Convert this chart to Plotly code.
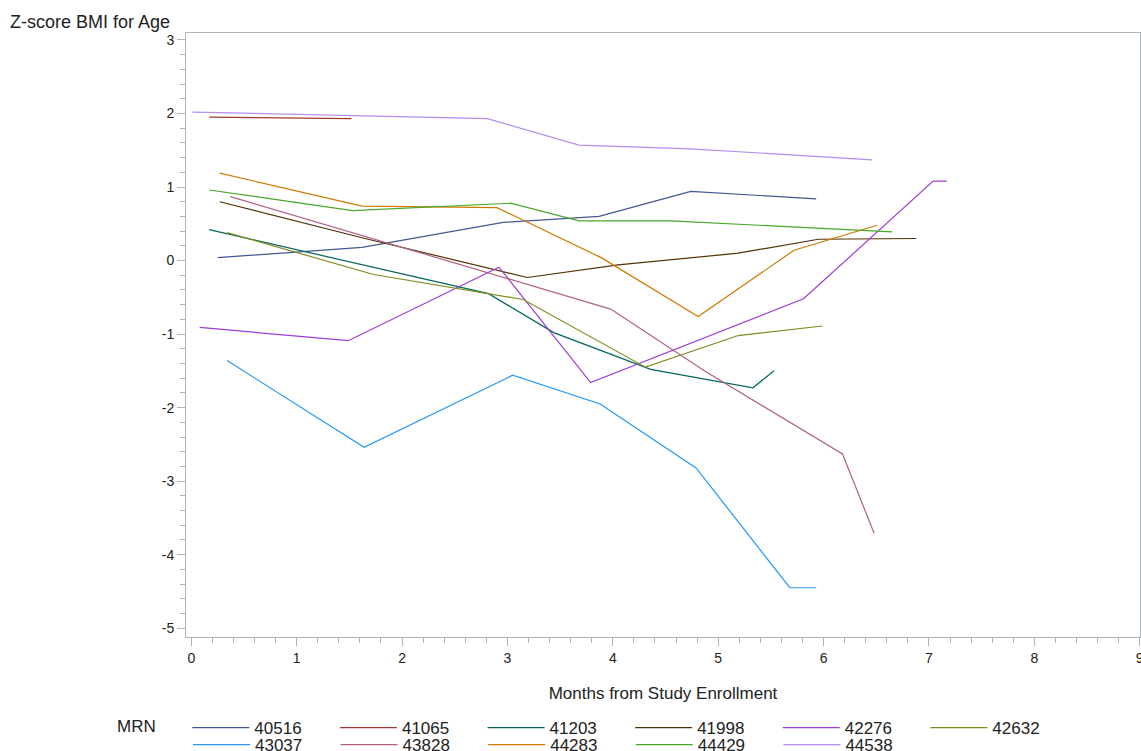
import plotly.graph_objects as go

mrn = ["40516", "41065", "41203", "41998", "42276", "42632",
       "43037", "43828", "44283", "44429", "44538"]
colors = ["#445694", "#A23A2E", "#01665E", "#543005", "#9D3CDB", "#7F8E1F",
          "#2597FA", "#B26084", "#D17800", "#47A82A", "#B38EF3"]

months = {
    "40516": [0.25, 1.62, 2.96, 3.87, 4.74, 5.93],
    "41065": [0.17, 1.52],
    "41203": [0.17, 1.62, 2.82, 3.44, 4.36, 5.33, 5.53],
    "41998": [0.27, 1.62, 3.19, 4.05, 5.19, 5.95, 6.88],
    "42276": [0.08, 1.49, 2.92, 3.79, 5.81, 7.04, 7.17],
    "42632": [0.34, 1.73, 3.15, 4.31, 5.19, 5.99],
    "43037": [0.34, 1.64, 3.05, 3.88, 4.79, 5.68, 5.93],
    "43828": [0.37, 3.98, 4.88, 6.18, 6.48],
    "44283": [0.27, 1.62, 2.90, 3.89, 4.81, 5.72, 6.51],
    "44429": [0.17, 1.53, 3.03, 3.68, 4.55, 6.65],
    "44538": [0.01, 2.81, 3.68, 4.74, 6.46],
}
zscore = {
    "40516": [0.04, 0.18, 0.52, 0.60, 0.94, 0.84],
    "41065": [1.95, 1.93],
    "41203": [0.42, -0.06, -0.45, -0.98, -1.48, -1.73, -1.50],
    "41998": [0.80, 0.31, -0.23, -0.06, 0.10, 0.29, 0.30],
    "42276": [-0.91, -1.09, -0.09, -1.66, -0.52, 1.08, 1.08],
    "42632": [0.38, -0.19, -0.53, -1.45, -1.02, -0.89],
    "43037": [-1.36, -2.54, -1.56, -1.95, -2.82, -4.45, -4.45],
    "43828": [0.87, -0.66, -1.51, -2.63, -3.71],
    "44283": [1.19, 0.74, 0.72, 0.04, -0.76, 0.14, 0.48],
    "44429": [0.96, 0.68, 0.78, 0.54, 0.54, 0.39],
    "44538": [2.02, 1.93, 1.57, 1.52, 1.37],
}

y_ticks = [3, 2, 1, 0, -1, -2, -3, -4, -5]
y_ticktext = ["3", "2", "1", "0", "-1", "-2", "-3", "-4", "-5"]
x_ticks = list(range(0, 10))

FONT = "Liberation Sans, Arial, sans-serif"
AX = "#B0B5BA"
TXT = "#222222"

W, H = 1141, 751
L, R, T, B = 186, 1, 33, 114
pw, ph = W - L - R, H - T - B

fig = go.Figure()
for i, (name, col) in enumerate(zip(mrn, colors)):
    fig.add_trace(go.Scatter(x=months[name], y=zscore[name], mode="lines",
                             name=name, line=dict(color=col, width=1.2),
                             legend="legend" if i < 6 else "legend2"))

leg_common = dict(orientation="h", xanchor="left", yanchor="middle",
                  entrywidth=75.6, entrywidthmode="pixels", itemwidth=57,
                  tracegroupgap=0, font=dict(size=17, color=TXT),
                  bgcolor="rgba(0,0,0,0)", borderwidth=0)

fig.update_layout(
    width=W, height=H,
    margin=dict(l=L, r=R, t=T, b=B, autoexpand=False),
    paper_bgcolor="white", plot_bgcolor="white",
    font=dict(family=FONT, size=14, color=TXT),
    showlegend=True,
    legend=dict(x=(115 - L) / pw, y=(T + ph - 728) / ph,
                title=dict(text="MRN     ", side="left", font=dict(size=17, color=TXT)),
                **leg_common),
    legend2=dict(x=(188 - L) / pw, y=(T + ph - 745) / ph, **leg_common),
    xaxis=dict(range=[-0.05, 9.003], tickvals=x_ticks, showgrid=False, zeroline=False,
               showline=True, linecolor=AX, linewidth=1, mirror=True,
               ticks="outside", ticklen=8, tickcolor=AX, ticklabeloverflow="allow",
               minor=dict(dtick=0.2, ticks="outside", ticklen=5, tickcolor=AX, showgrid=False),
               tickfont=dict(size=14, color=TXT),
               title=dict(text="Months from Study Enrollment", standoff=22,
                          font=dict(size=17, color=TXT))),
    yaxis=dict(range=[-5.12, 3.095], tickvals=y_ticks, ticktext=y_ticktext,
               showgrid=False, zeroline=False,
               showline=True, linecolor=AX, linewidth=1, mirror=True,
               ticks="outside", ticklen=8, tickcolor=AX,
               minor=dict(dtick=0.2, ticks="outside", ticklen=5, tickcolor=AX, showgrid=False),
               tickfont=dict(size=14, color=TXT)),
    annotations=[dict(text="Z-score BMI for Age", xref="paper", yref="paper",
                      x=(10 - L) / pw, xanchor="left", y=1 + (33 - 21.5) / ph, yanchor="middle",
                      showarrow=False, xshift=-2, font=dict(size=18, color=TXT))],
)

fig.write_html("out.html", config={"displayModeBar": False},
               post_script="document.body.style.margin='0';")
